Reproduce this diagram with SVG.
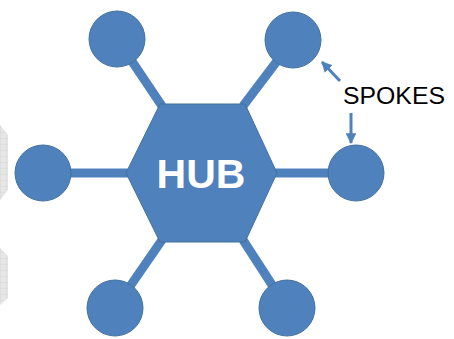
<svg xmlns="http://www.w3.org/2000/svg" width="454" height="339" viewBox="0 0 454 339">
<defs>
<style>
.node{fill:#4f81bd;stroke:#41719c;stroke-width:1}
.spoke{stroke:#4f81bd;stroke-width:9;fill:none}
.ptr{stroke:#4f81bd;stroke-width:3;fill:none}
.hub{font-family:"Liberation Sans",Arial,sans-serif;font-weight:bold;font-size:41px;fill:#ffffff}
.lbl{font-family:"Liberation Sans",Arial,sans-serif;font-size:24.8px;fill:#000000}
</style>
<pattern id="grid" width="6" height="6" patternUnits="userSpaceOnUse">
<rect width="6" height="6" fill="#e6e6e6"/>
<path d="M0 0H6M0 0V6" stroke="#cfcfcf" stroke-width="0.7"/>
</pattern>
<marker id="ah" viewBox="0 0 10 10" refX="9" refY="5" markerWidth="3.6" markerHeight="3.6" orient="auto" markerUnits="strokeWidth">
<path d="M0 0L10 5L0 10Z" fill="#4f81bd"/>
</marker>
</defs>
<g id="background">
<polygon points="0,125 8,135 8,190 0,200" fill="url(#grid)"/>
<polygon points="0,248 8,256 8,298 0,305" fill="url(#grid)"/>
</g>
<g id="connectors">
<line class="spoke" x1="117" y1="39" x2="162" y2="106"/>
<line class="spoke" x1="293" y1="40" x2="243" y2="106"/>
<line class="spoke" x1="43" y1="173" x2="128" y2="173"/>
<line class="spoke" x1="356" y1="173" x2="274" y2="173"/>
<line class="spoke" x1="115" y1="308" x2="162" y2="240"/>
<line class="spoke" x1="287" y1="308" x2="243" y2="240"/>
<line class="ptr" x1="340" y1="81" x2="322" y2="62" marker-end="url(#ah)"/>
<line class="ptr" x1="351" y1="113" x2="351" y2="143" marker-end="url(#ah)"/>
</g>
<g id="hub">
<polygon class="node" points="160,104 245,104 277,173 245,242 160,242 126,173"/>
<text class="hub" x="201" y="188" text-anchor="middle">HUB</text>
</g>
<g id="spoke-top-left"><circle class="node" cx="117" cy="39" r="28"/></g>
<g id="spoke-top-right"><circle class="node" cx="293" cy="40" r="28"/></g>
<g id="spoke-left"><circle class="node" cx="43" cy="173" r="28"/></g>
<g id="spoke-right"><circle class="node" cx="356" cy="173" r="28"/></g>
<g id="spoke-bottom-left"><circle class="node" cx="115" cy="308" r="28"/></g>
<g id="spoke-bottom-right"><circle class="node" cx="287" cy="308" r="28"/></g>
<g id="label">
<text class="lbl" x="343" y="104">SPOKES</text>
</g>
</svg>
